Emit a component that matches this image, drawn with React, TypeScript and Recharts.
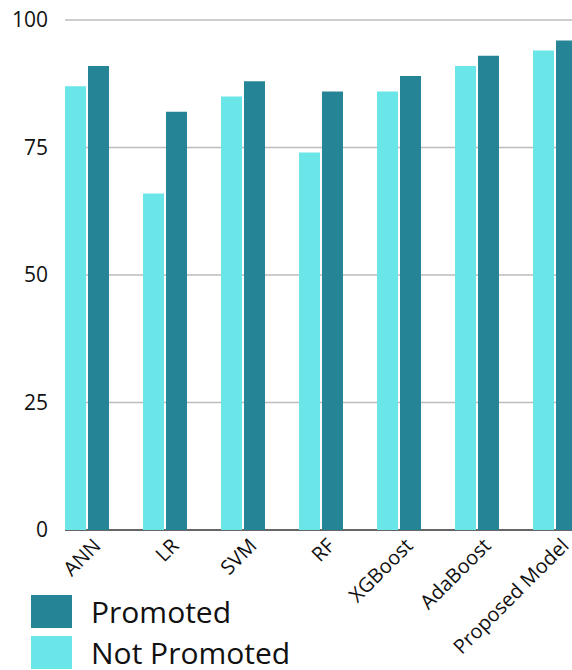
import React from 'react';
import {
  BarChart,
  Bar,
  XAxis,
  YAxis,
  CartesianGrid,
} from 'recharts';

const models = ['ANN', 'LR', 'SVM', 'RF', 'XGBoost', 'AdaBoost', 'Proposed Model'];
const notPromoted = [87, 66, 85, 74, 86, 91, 94];
const promoted = [91, 82, 88, 86, 89, 93, 96];
const yTicks = [0, 25, 50, 75, 100];

const LIGHT = '#6ae6e8';
const DARK = '#268497';
const FONT = '"Open Sans", sans-serif';

const data = models.map((name, i) => ({
  name,
  notPromoted: notPromoted[i],
  promoted: promoted[i],
}));

// grid lines start a little right of the plot edge; the zero line doubles as the axis
const renderGridLine = (props: any) => {
  const { x1, x2, y1, y2, y, height, index } = props;
  const isBase = Math.abs(y1 - (y + height)) < 1;
  return (
    <line
      key={`grid-${index}`}
      x1={x1 + 17}
      x2={x2}
      y1={y1}
      y2={y2}
      stroke={isBase ? '#666666' : '#bdbdbd'}
      strokeWidth={isBase ? 2.2 : 1.5}
    />
  );
};

const CategoryTick = (props: any) => {
  const { x, y, payload } = props;
  return (
    <g transform={`translate(${x + 15},${y + 9})`}>
      <text
        x={0}
        y={0}
        textAnchor="end"
        transform="rotate(-45)"
        fontSize={20}
        fill="#111"
        fontFamily={FONT}
      >
        {payload.value}
      </text>
    </g>
  );
};

const legendItems = [
  { label: 'Promoted', color: DARK },
  { label: 'Not Promoted', color: LIGHT },
];

export default function App() {
  return (
    <div
      style={{
        position: 'absolute',
        left: 0,
        top: 0,
        width: 572,
        height: 670,
        overflow: 'hidden',
        background: '#fff',
      }}
    >
      <BarChart
        width={594}
        height={670}
        data={data}
        margin={{ top: 20, right: 0, bottom: 110, left: 0 }}
        barSize={21}
        barGap={2}
      >
        <CartesianGrid vertical={false} horizontal={renderGridLine} />
        <XAxis
          dataKey="name"
          height={30}
          interval={0}
          tickLine={false}
          axisLine={false}
          tick={<CategoryTick />}
        />
        <YAxis
          width={48}
          domain={[0, 100]}
          ticks={yTicks}
          tickLine={false}
          axisLine={false}
          tickSize={0}
          tickMargin={0}
          tick={{ fontSize: 21, fill: '#111', fontFamily: FONT }}
        />
        <Bar dataKey="notPromoted" name="Not Promoted" fill={LIGHT} isAnimationActive={false} />
        <Bar dataKey="promoted" name="Promoted" fill={DARK} isAnimationActive={false} />
      </BarChart>
      {/* legend sits over the lower-left corner, below the axis labels */}
      <div style={{ position: 'absolute', left: 31, top: 591, fontFamily: FONT }}>
        {legendItems.map((item) => (
          <div
            key={item.label}
            style={{ display: 'flex', alignItems: 'center', height: 41 }}
          >
            <div style={{ width: 41, height: 33, background: item.color }} />
            <span style={{ marginLeft: 19, fontSize: 30, color: '#111', lineHeight: 1 }}>
              {item.label}
            </span>
          </div>
        ))}
      </div>
    </div>
  );
}
